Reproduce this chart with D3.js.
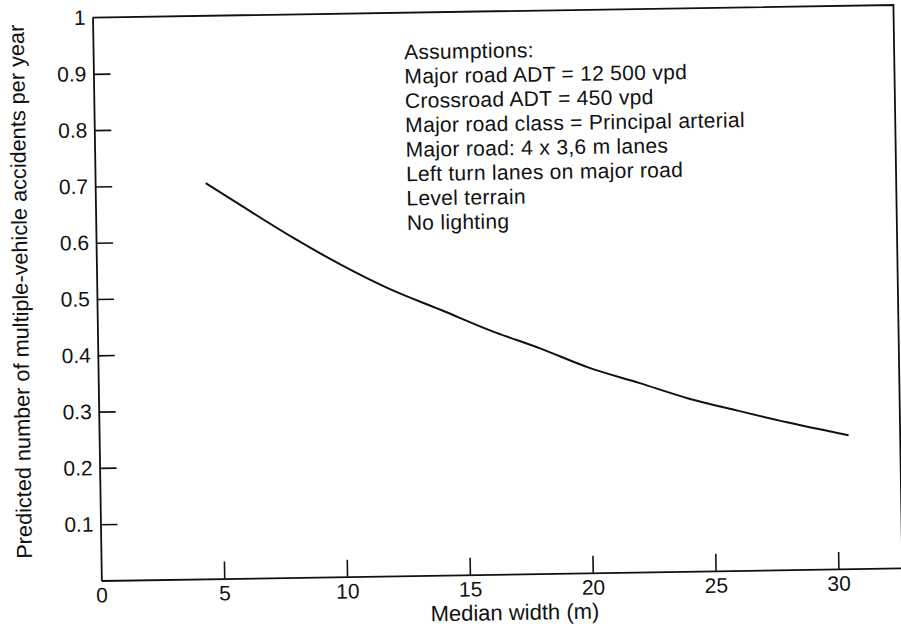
<!DOCTYPE html>
<html lang="en">
<head>
    <meta charset="UTF-8">
    <title>Median width vs predicted accidents</title>
    <script src="https://d3js.org/d3.v7.min.js"></script>
</head>
<body>
    <div id="svg-container"></div>
</body>
<style>
    *{
        padding: 0;
        margin: 0;
    }
    body{
        background: white;
    }
    svg text{
        font-family: "Liberation Sans", Arial, Helvetica, sans-serif;
        fill: #111;
    }
</style>
<script>
    // values
    let medianWidth = [4.5, 6, 8, 10, 12, 14, 16, 18, 20, 22, 24, 26, 28, 30, 30.5];
    let accidents = [0.703, 0.660, 0.604, 0.553, 0.508, 0.471, 0.433, 0.400, 0.364, 0.336, 0.307, 0.284, 0.262, 0.242, 0.237];

    let xTicks = [0, 5, 10, 15, 20, 25, 30];
    let yTicks = [0.1, 0.2, 0.3, 0.4, 0.5, 0.6, 0.7, 0.8, 0.9, 1];

    let assumptions = [
        "Assumptions:",
        "Major road ADT = 12 500 vpd",
        "Crossroad ADT = 450 vpd",
        "Major road class = Principal arterial",
        "Major road: 4 x 3,6 m lanes",
        "Left turn lanes on major road",
        "Level terrain",
        "No lighting"
    ];

    const w = 901;
    const h = 635;
    const plotL = 97, plotR = 898, plotT = 12, plotB = 575;

    let svg = d3.select('#svg-container')
        .append('svg')
        .attr('width', w)
        .attr('height', h);

    // the scan is slightly tilted
    let g = svg.append('g')
        .attr('transform', 'rotate(-0.9, 450, 300)');

    let xScale = d3.scaleLinear()
        .domain([0, 32.6])
        .range([plotL, plotR]);

    let yScale = d3.scaleLinear()
        .domain([0, 1])
        .range([plotB, plotT]);

    let xAxis = d3.axisBottom(xScale)
        .tickValues(xTicks)
        .tickFormat(d3.format('d'))
        .tickSizeInner(-17)
        .tickSizeOuter(0)
        .tickPadding(7);

    let yAxis = d3.axisLeft(yScale)
        .tickValues(yTicks)
        .tickFormat(d => d == 1 ? '1' : d3.format('.1f')(d))
        .tickSizeInner(-17)
        .tickSizeOuter(0)
        .tickPadding(7);

    let gx = g.append('g')
        .attr('transform', `translate(0,${plotB})`)
        .call(xAxis);

    let gy = g.append('g')
        .attr('transform', `translate(${plotL},0)`)
        .call(yAxis);

    [gx, gy].forEach(a => {
        a.selectAll('path.domain').attr('stroke', '#111').attr('stroke-width', 1.8);
        a.selectAll('.tick line').attr('stroke', '#111').attr('stroke-width', 1.6);
        a.selectAll('.tick text')
            .attr('fill', '#111')
            .style('font-size', '21px');
    });
    // no marks for 0 on x and 1 on y
    gx.selectAll('.tick').filter(d => d == 0).select('line').remove();
    gy.selectAll('.tick').filter(d => d == 1).select('line').remove();

    // top and right frame
    g.append('path')
        .attr('d', `M${plotL},${plotT}H${plotR}V${plotB}`)
        .attr('fill', 'none')
        .attr('stroke', '#111')
        .attr('stroke-width', 1.8);

    let line = d3.line()
        .x((d, i) => xScale(medianWidth[i]))
        .y(d => yScale(d))
        .curve(d3.curveMonotoneX);

    g.append('path')
        .datum(accidents)
        .attr('d', line)
        .attr('fill', 'none')
        .attr('stroke', '#111')
        .attr('stroke-width', 2);

    g.append('text')
        .attr('x', 510)
        .attr('y', 621)
        .attr('text-anchor', 'middle')
        .style('font-size', '22px')
        .text('Median width (m)');

    g.append('text')
        .attr('transform', 'translate(28,285) rotate(-90)')
        .attr('text-anchor', 'middle')
        .style('font-size', '21.7px')
        .text('Predicted number of multiple-vehicle accidents per year');

    g.append('g')
        .selectAll('text')
        .data(assumptions)
        .enter()
        .append('text')
        .attr('x', 408)
        .attr('y', (d, i) => 58.5 + i * 24.4)
        .style('font-size', '21px')
        .style('letter-spacing', '0.3px')
        .text(d => d);
</script>
</html>
